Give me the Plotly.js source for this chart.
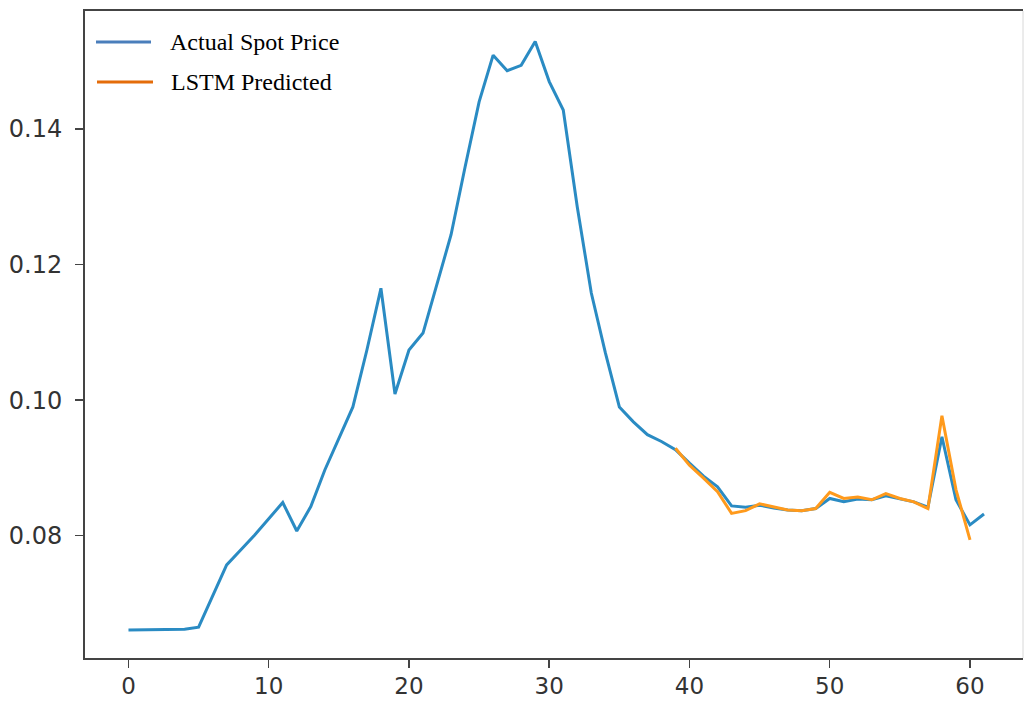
<!DOCTYPE html>
<html>
<head>
<meta charset="utf-8">
<script src="https://cdn.plot.ly/plotly-3.0.1.min.js"></script>
<style>html,body{margin:0;padding:0;background:#fff;overflow:hidden}</style>
</head>
<body>
<div id="chart" style="width:1024px;height:701px"></div>
<script>
// Actual spot price, index 0..61
const actualX = [0,1,2,3,4,5,6,7,8,9,10,11,12,13,14,15,16,17,18,19,20,21,22,23,24,25,26,27,28,29,30,31,32,33,34,35,36,37,38,39,40,41,42,43,44,45,46,47,48,49,50,51,52,53,54,55,56,57,58,59,60,61];
const actualY = [0.0661,0.0661,0.0661,0.0661,0.0662,0.0665,0.0710,0.0757,0.0779,0.0801,0.0825,0.0849,0.0807,0.0843,0.0897,0.0944,0.0990,0.1074,0.1165,0.1009,0.1074,0.1099,0.1172,0.1244,0.1344,0.1440,0.1509,0.1486,0.1494,0.1529,0.1470,0.1428,0.1285,0.1158,0.1070,0.0990,0.0968,0.0949,0.0939,0.0927,0.0907,0.0888,0.0872,0.0844,0.0842,0.0845,0.0841,0.0838,0.0837,0.0840,0.0855,0.0850,0.0854,0.0853,0.0859,0.0854,0.0850,0.0842,0.0946,0.0853,0.0816,0.0832];
// LSTM predicted, index 39..60
const predX = [39,40,41,42,43,44,45,46,47,48,49,50,51,52,53,54,55,56,57,58,59,60];
const predY = [0.0929,0.0904,0.0885,0.0865,0.0833,0.0837,0.0847,0.0843,0.0838,0.0837,0.0840,0.0864,0.0855,0.0857,0.0853,0.0862,0.0855,0.0850,0.0840,0.0977,0.0868,0.0794];
const legendLabels = ["Actual Spot Price", "LSTM Predicted"];
const xTicks = [0,10,20,30,40,50,60];
const yTicks = [0.08,0.10,0.12,0.14];
const yTickText = ["0.08","0.10","0.12","0.14"];

const traces = [
  {x: actualX, y: actualY, type: 'scatter', mode: 'lines', name: legendLabels[0],
   line: {color: '#2a8bc3', width: 3}, showlegend: false},
  {x: predX, y: predY, type: 'scatter', mode: 'lines', name: legendLabels[1],
   line: {color: '#ff9a1c', width: 3}, showlegend: false}
];

const axisCommon = {
  showgrid: false, zeroline: false, showline: true,
  linecolor: '#444', linewidth: 2, ticks: 'outside', ticklen: 8, tickwidth: 1.5,
  tickcolor: '#444', tickfont: {family: 'DejaVu Sans', size: 24, color: '#333'}
};

const layout = {
  width: 1024, height: 701,
  margin: {l: 85, r: 1, t: 11, b: 43},
  paper_bgcolor: '#fff', plot_bgcolor: '#fff',
  xaxis: Object.assign({}, axisCommon, {range: [-3.1, 63.78], tickvals: xTicks, ticklabelstandoff: -2, mirror: true,
    tickfont: {family: 'DejaVu Sans', size: 23, color: '#333'}}),
  yaxis: Object.assign({}, axisCommon, {range: [0.06196, 0.15741], tickvals: yTicks, ticktext: yTickText, ticklabelstandoff: 8, mirror: false}),
  shapes: [
    {type: 'line', xref: 'paper', yref: 'paper', x0: 1, x1: 1, y0: 0, y1: 1,
     line: {color: '#d8d8d8', width: 1}},
    {type: 'line', xref: 'paper', yref: 'paper', x0: 11/938, x1: 66/938, y0: 1 - 31/647, y1: 1 - 31/647,
     line: {color: '#4a7ebb', width: 3}},
    {type: 'line', xref: 'paper', yref: 'paper', x0: 12/938, x1: 68/938, y0: 1 - 71/647, y1: 1 - 71/647,
     line: {color: '#e46c0a', width: 3}}
  ],
  annotations: [
    {xref: 'paper', yref: 'paper', x: 83/938, y: 1 - 31/647, xanchor: 'left', yanchor: 'middle', showarrow: false,
     text: legendLabels[0], font: {family: 'Liberation Serif', size: 24, color: '#000'}},
    {xref: 'paper', yref: 'paper', x: 84/938, y: 1 - 71/647, xanchor: 'left', yanchor: 'middle', showarrow: false,
     text: legendLabels[1], font: {family: 'Liberation Serif', size: 24, color: '#000'}}
  ]
};

Plotly.newPlot('chart', traces, layout, {displayModeBar: false, staticPlot: true});
</script>
</body>
</html>
